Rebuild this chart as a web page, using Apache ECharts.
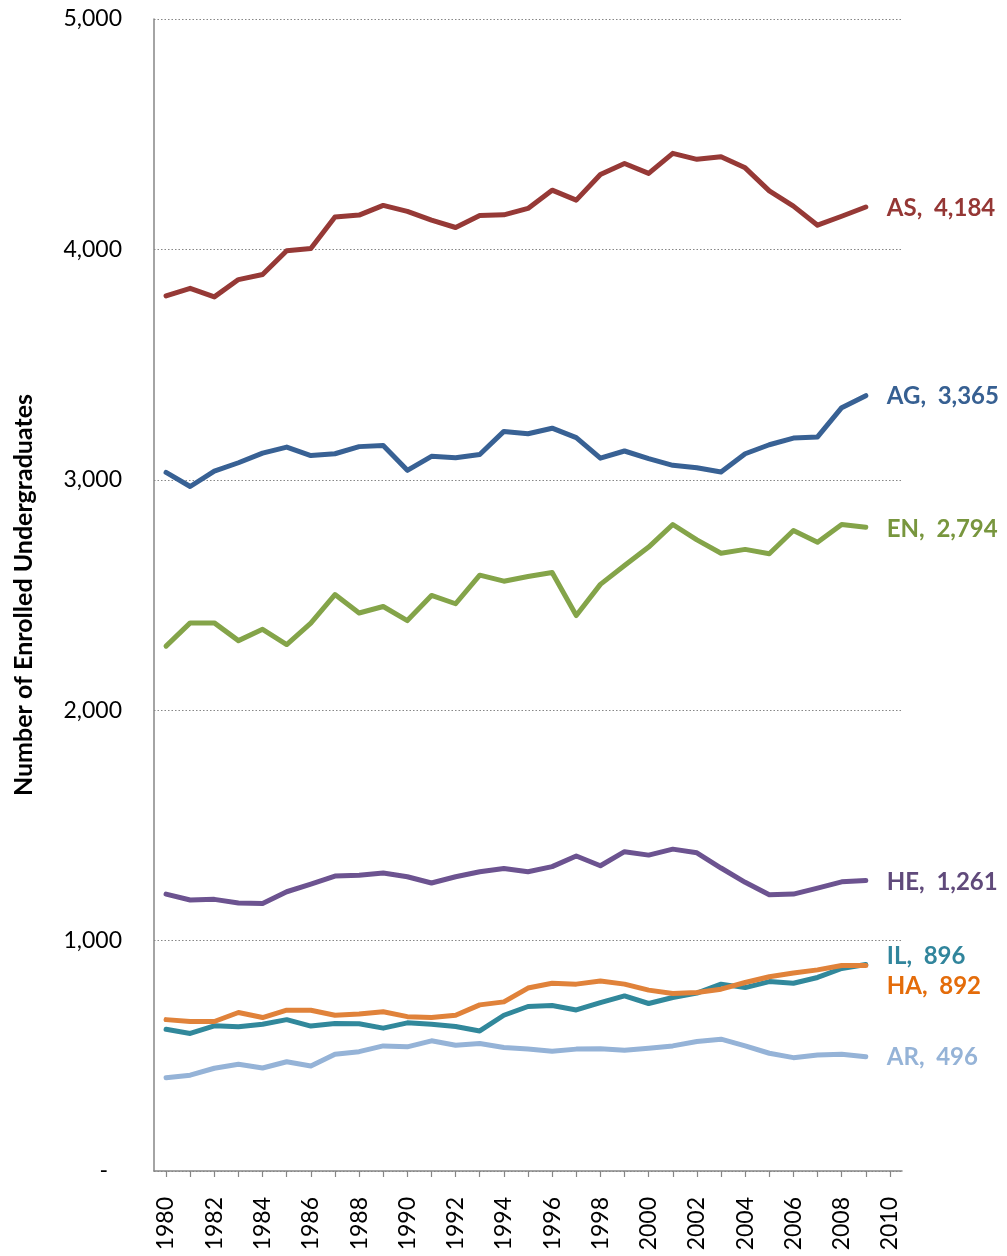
<!DOCTYPE html>
<html>
<head>
<meta charset="utf-8">
<script src="https://cdn.jsdelivr.net/npm/echarts@6/dist/echarts.min.js"></script>
<style>
html,body{margin:0;padding:0;background:#fff;}
#chart{width:1007px;height:1256px;}
</style>
</head>
<body>
<div id="chart"></div>
<script>
// Categories (x axis years)
var years = [];
for (var y = 1980; y <= 2010; y++) years.push(String(y));

// Series names
var seriesNames = ['AS', 'AG', 'EN', 'HE', 'IL', 'HA', 'AR'];

// Series values 1980..2009
var AS = [3798, 3831, 3794, 3869, 3891, 3994, 4004, 4141, 4149, 4191, 4165, 4127, 4095, 4147, 4150, 4178, 4257, 4214, 4325, 4373, 4330, 4417, 4391, 4402, 4354, 4254, 4188, 4105, 4144, 4184];
var AG = [3032, 2971, 3038, 3074, 3116, 3142, 3105, 3113, 3144, 3149, 3041, 3102, 3096, 3110, 3210, 3200, 3224, 3183, 3094, 3125, 3092, 3063, 3052, 3034, 3113, 3152, 3181, 3186, 3313, 3365];
var EN = [2278, 2379, 2379, 2302, 2351, 2285, 2378, 2502, 2422, 2450, 2389, 2498, 2462, 2586, 2560, 2580, 2598, 2411, 2546, 2628, 2708, 2806, 2739, 2681, 2698, 2679, 2780, 2729, 2806, 2794];
var HE = [1202, 1176, 1179, 1163, 1161, 1212, 1245, 1280, 1284, 1293, 1277, 1250, 1277, 1299, 1313, 1299, 1321, 1367, 1325, 1386, 1371, 1397, 1381, 1315, 1253, 1199, 1202, 1228, 1255, 1261];
var IL = [615, 597, 630, 626, 637, 657, 629, 640, 639, 620, 643, 637, 627, 608, 676, 714, 718, 699, 731, 760, 727, 753, 772, 811, 796, 822, 815, 840, 879, 896];
var HA = [657, 649, 649, 688, 666, 698, 698, 676, 681, 691, 670, 666, 676, 721, 734, 794, 815, 811, 825, 811, 785, 770, 775, 789, 818, 843, 859, 873, 892, 892];
var AR = [405, 416, 446, 463, 447, 474, 456, 507, 518, 543, 539, 565, 546, 553, 536, 529, 520, 529, 531, 524, 533, 543, 562, 572, 543, 511, 492, 503, 507, 496];

// Y axis ticks
var yTicks = [0, 1000, 2000, 3000, 4000, 5000];

var dataByName = {AS: AS, AG: AG, EN: EN, HE: HE, IL: IL, HA: HA, AR: AR};
var lineColors = {AS: '#963936', AG: '#386194', EN: '#84A449', HE: '#6C5390', IL: '#31889B', HA: '#E0823A', AR: '#95B3D7'};
var labelColors = {AS: '#953735', AG: '#376092', EN: '#78963E', HE: '#604A7B', IL: '#31859C', HA: '#E46C0A', AR: '#95B3D7'};
var labelOffsets = {AS: [0, 1], AG: [0, 1], EN: [0, 2], HE: [0, 2], IL: [0, -8], HA: [0, 21], AR: [0, 1]};
var drawOrder = ['AR', 'IL', 'HA', 'HE', 'EN', 'AG', 'AS'];

function fmt(v) { return Number(v).toLocaleString('en-US'); }

var series = drawOrder.map(function (name) {
  return {
    name: name,
    type: 'line',
    data: dataByName[name],
    symbol: 'none',
    animation: false,
    lineStyle: {color: lineColors[name], width: 5, cap: 'round', join: 'round'},
    itemStyle: {color: lineColors[name]},
    endLabel: {
      show: true,
      distance: 21,
      offset: labelOffsets[name],
      color: labelColors[name],
      fontFamily: 'Lato',
      fontWeight: 'bold',
      fontSize: 24,
      formatter: function (p) { return p.seriesName + ',  ' + fmt(p.value); }
    },
    emphasis: {disabled: true}
  };
});

var chart = echarts.init(document.getElementById('chart'), null, {renderer: 'canvas'});
chart.setOption({
  backgroundColor: '#ffffff',
  animation: false,
  grid: {left: 154, right: 105, top: 19, bottom: 85, containLabel: false},
  xAxis: {
    type: 'category',
    data: years,
    boundaryGap: true,
    axisLine: {lineStyle: {color: '#868686', width: 1.5}},
    axisTick: {show: true, interval: 0, alignWithLabel: true, length: 6, lineStyle: {color: '#868686', width: 1.2}},
    axisLabel: {interval: 1, rotate: 90, margin: 26, color: '#000', fontFamily: 'Lato', fontSize: 23},
    splitLine: {show: false}
  },
  yAxis: {
    type: 'value',
    min: yTicks[0],
    max: yTicks[yTicks.length - 1],
    interval: 1000,
    name: 'Number of Enrolled Undergraduates',
    nameLocation: 'middle',
    nameGap: 118,
    nameTextStyle: {fontFamily: 'Lato', fontWeight: 'bold', fontSize: 25, color: '#000'},
    axisLine: {show: true, lineStyle: {color: '#868686', width: 1.5}},
    axisTick: {show: false},
    axisLabel: {
      margin: 32,
      color: '#000',
      fontFamily: 'Lato',
      fontSize: 23,
      formatter: function (v) { return v === 0 ? '{d|-}' : fmt(v); },
      rich: {d: {fontFamily: 'Lato', fontSize: 23, color: '#000', padding: [0, 14, 0, 0]}}
    },
    splitLine: {show: true, lineStyle: {color: '#868686', width: 1.2, type: [1.5, 2]}}
  },
  series: series
});
</script>
</body>
</html>
